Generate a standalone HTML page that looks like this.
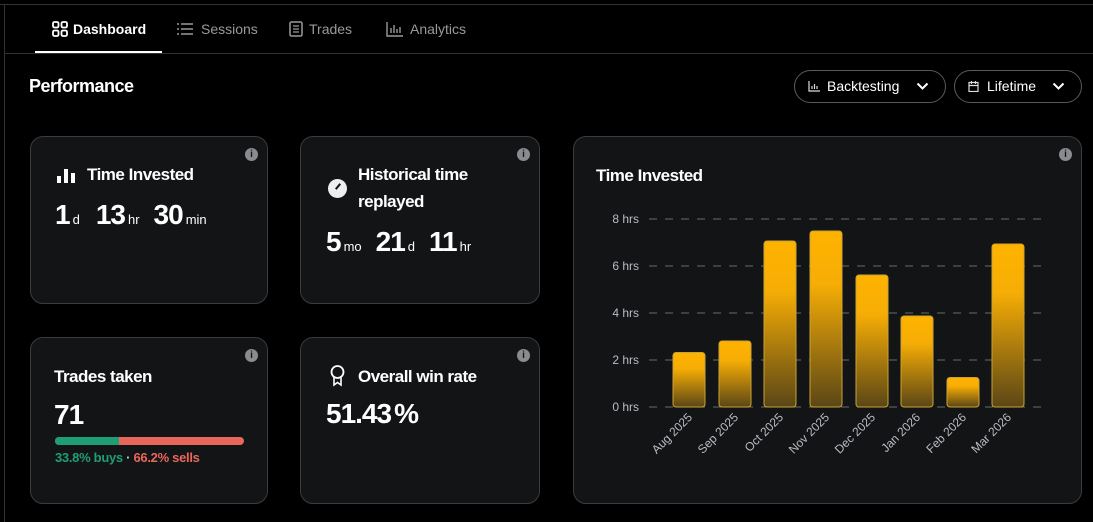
<!DOCTYPE html>
<html><head><meta charset="utf-8"><style>
*{box-sizing:border-box;margin:0;padding:0}
body{width:1093px;height:522px;background:#000;font-family:"Liberation Sans",sans-serif;color:#fff;position:relative;overflow:hidden}
.a{position:absolute}
.card{position:absolute;background:#131416;border:1px solid #3b3c3f;border-radius:13px}
.info{position:absolute;width:13px;height:13px;border-radius:50%;background:#8a8b8e;color:#131416;font-size:10px;font-weight:bold;text-align:center;line-height:13px}
.t{font-size:17px;font-weight:bold;letter-spacing:-0.5px}
.big{font-size:28px;font-weight:bold;letter-spacing:-1px;white-space:nowrap}
.u{font-size:13px;font-weight:normal;letter-spacing:0;margin-left:3px;margin-right:14px}
.tab{position:absolute;top:21px;font-size:14px;color:#9a9a9a}
.btn{position:absolute;top:70px;height:33px;border:1px solid #5a5a5a;border-radius:17px;font-size:14px;line-height:31px}
.chev{position:absolute;right:16px;top:11px}
</style></head><body>
<div class="a" style="left:0;top:4px;width:1093px;height:1px;background:#333"></div>
<div class="a" style="left:4px;top:4px;width:1px;height:518px;background:#333"></div>
<div class="a" style="left:5px;top:53px;width:1088px;height:1px;background:#333"></div>
<div class="a" style="left:35px;top:51px;width:127px;height:2px;background:#fff"></div>
<div class="tab" style="left:52px;color:#fff;font-weight:bold">
<svg width="16" height="16" style="vertical-align:-3px;margin-right:5px"><g fill="none" stroke="#fff" stroke-width="1.8"><rect x="1" y="1" width="5.5" height="5.5" rx="1.5"/><rect x="9.5" y="1" width="5.5" height="5.5" rx="1.5"/><rect x="1" y="9.5" width="5.5" height="5.5" rx="1.5"/><rect x="9.5" y="9.5" width="5.5" height="5.5" rx="1.5"/></g></svg>Dashboard</div>
<div class="tab" style="left:177px"><svg width="16" height="14" style="vertical-align:-2px;margin-right:8px"><g stroke="#9a9a9a" stroke-width="1.5"><path d="M4 2h12M4 7h12M4 12h12"/><path d="M0 2h2M0 7h2M0 12h2"/></g></svg>Sessions</div>
<div class="tab" style="left:289px"><svg width="14" height="16" style="vertical-align:-3px;margin-right:6px"><rect x="1" y="1" width="12" height="14" rx="1.5" fill="none" stroke="#9a9a9a" stroke-width="1.5"/><path d="M4 5h6M4 8h6M4 11h6" stroke="#9a9a9a" stroke-width="1.3"/></svg>Trades</div>
<div class="tab" style="left:386px"><svg width="17" height="16" style="vertical-align:-3px;margin-right:7px"><path d="M1 1v14h16M5 12V7M8 12V4M11 12V8M14 12V6" stroke="#9a9a9a" stroke-width="1.4" fill="none"/></svg>Analytics</div>
<div class="a" style="left:29px;top:76px;font-size:18px;font-weight:bold;letter-spacing:-0.5px">Performance</div>
<div class="btn" style="left:794px;width:152px;padding-left:13px"><svg width="12" height="11" style="vertical-align:-1px;margin-right:7px"><path d="M1 0v10h11M4 8V5M6.5 8V3M9 8V5" stroke="#ddd" stroke-width="1.2" fill="none"/></svg>Backtesting<svg class="chev" width="13" height="9"><path d="M1.5 1.5l5 5 5-5" stroke="#fff" stroke-width="2" fill="none"/></svg></div>
<div class="btn" style="left:954px;width:128px;padding-left:13px"><svg width="11" height="11" style="vertical-align:-1px;margin-right:8px"><rect x="1" y="1.5" width="9" height="9" fill="none" stroke="#ddd" stroke-width="1.2"/><path d="M1 4.5h9M3.5 0v3M7.5 0v3" stroke="#ddd" stroke-width="1.2"/></svg>Lifetime<svg class="chev" width="13" height="9"><path d="M1.5 1.5l5 5 5-5" stroke="#fff" stroke-width="2" fill="none"/></svg></div>

<div class="card" style="left:30px;top:136px;width:238px;height:168px">
<div class="info" style="left:214px;top:11px">i</div>
<svg class="a" style="left:26px;top:30px" width="18" height="16"><rect x="0" y="9" width="4" height="7" fill="#fff"/><rect x="7" y="2" width="4" height="14" fill="#fff"/><rect x="14" y="6" width="4" height="10" fill="#fff"/></svg>
<div class="a t" style="left:56px;top:28px">Time Invested</div>
<div class="a big" style="left:24px;top:62px">1<span class="u" style="margin-right:16px">d</span>13<span class="u">hr</span>30<span class="u">min</span></div>
</div>
<div class="card" style="left:300px;top:136px;width:240px;height:168px">
<div class="info" style="left:216px;top:11px">i</div>
<div class="a" style="left:27px;top:42px;width:19px;height:19px;border-radius:50%;background:#eee"><div class="a" style="left:9px;top:4px;width:2px;height:7px;background:#131416;transform:rotate(40deg)"></div></div>
<div class="a t" style="left:57px;top:24px;line-height:27px">Historical time<br>replayed</div>
<div class="a big" style="left:25px;top:89px">5<span class="u">mo</span>21<span class="u">d</span>11<span class="u">hr</span></div>
</div>
<div class="card" style="left:30px;top:337px;width:238px;height:167px">
<div class="info" style="left:214px;top:11px">i</div>
<div class="a t" style="left:23px;top:29px">Trades taken</div>
<div class="a big" style="left:23px;top:61px">71</div>
<div class="a" style="left:24px;top:99px;width:189px;height:8px;border-radius:4px;background:#e8675a;overflow:hidden"><div style="width:64px;height:8px;background:#1f9e74"></div></div>
<div class="a" style="left:24px;top:112px;font-size:13px;font-weight:bold;letter-spacing:-0.3px"><span style="color:#1f9e74">33.8% buys</span> <span style="color:#ccc">·</span> <span style="color:#e8675a">66.2% sells</span></div>
</div>
<div class="card" style="left:300px;top:337px;width:240px;height:167px">
<div class="info" style="left:216px;top:11px">i</div>
<svg class="a" style="left:28px;top:27px" width="17" height="22"><circle cx="8.5" cy="7" r="6" fill="none" stroke="#fff" stroke-width="1.8"/><path d="M5 12v8l3.5-2.5L12 20v-8" fill="none" stroke="#fff" stroke-width="1.6"/></svg>
<div class="a t" style="left:57px;top:29px">Overall win rate</div>
<div class="a big" style="left:25px;top:60px">51.43<span style="margin-left:3px">%</span></div>
</div>
<div class="card" style="left:573px;top:136px;width:509px;height:368px">
<div class="info" style="left:485px;top:11px">i</div>
<div class="a t" style="left:22px;top:29px">Time Invested</div>
</div>
<svg class="a" style="left:0;top:0" width="1093" height="522">
<defs><linearGradient id="g" x1="0" y1="0" x2="0" y2="1"><stop offset="0" stop-color="#ffb300"/><stop offset="0.3" stop-color="#f6ad05"/><stop offset="1" stop-color="#5a4616"/></linearGradient></defs>
<g stroke="#6a6a6a" stroke-dasharray="8,8" stroke-width="1">
<line x1="649" x2="1041" y1="219" y2="219"/><line x1="649" x2="1041" y1="266" y2="266"/><line x1="649" x2="1041" y1="313" y2="313"/><line x1="649" x2="1041" y1="360" y2="360"/><line x1="649" x2="1041" y1="407" y2="407"/></g>
<g font-size="12" fill="#b8bcc4" text-anchor="end" font-family="Liberation Sans,sans-serif">
<text x="639" y="223">8 hrs</text><text x="639" y="270">6 hrs</text><text x="639" y="317">4 hrs</text><text x="639" y="364">2 hrs</text><text x="639" y="411">0 hrs</text></g>
<g fill="url(#g)" stroke="#c9a235" stroke-width="1">
<rect x="673" y="352.5" width="32" height="54.5" rx="3"/>
<rect x="719" y="341" width="32" height="66" rx="3"/>
<rect x="764" y="241" width="32" height="166" rx="3"/>
<rect x="810" y="231" width="32" height="176" rx="3"/>
<rect x="856" y="275" width="32" height="132" rx="3"/>
<rect x="901" y="316" width="32" height="91" rx="3"/>
<rect x="947" y="377.5" width="32" height="29.5" rx="3"/>
<rect x="992" y="244" width="32" height="163" rx="3"/></g>
<g font-size="12" fill="#b8bcc4" text-anchor="end" font-family="Liberation Sans,sans-serif">
<text transform="translate(693,418) rotate(-45)">Aug 2025</text>
<text transform="translate(739,418) rotate(-45)">Sep 2025</text>
<text transform="translate(784,418) rotate(-45)">Oct 2025</text>
<text transform="translate(830,418) rotate(-45)">Nov 2025</text>
<text transform="translate(876,418) rotate(-45)">Dec 2025</text>
<text transform="translate(921,418) rotate(-45)">Jan 2026</text>
<text transform="translate(967,418) rotate(-45)">Feb 2026</text>
<text transform="translate(1012,418) rotate(-45)">Mar 2026</text></g>
</svg>
</body></html>
